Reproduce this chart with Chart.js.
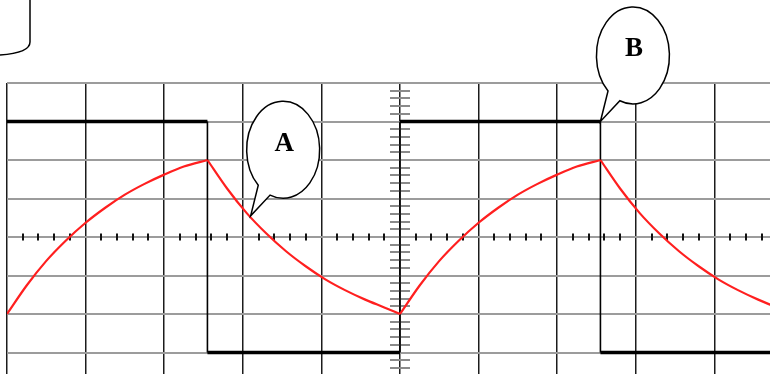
<!DOCTYPE html>
<html>
<head>
<meta charset="utf-8">
<script src="https://cdn.jsdelivr.net/npm/chart.js@4/dist/chart.umd.min.js"></script>
<style>
    html, body { margin: 0; padding: 0; background: #fff; overflow: hidden; width: 770px; height: 374px; }
    canvas { position: absolute; left: 0; top: 0; }
</style>
</head>
<body>
<canvas id="scope" width="800" height="400"></canvas>
<script>
// Oscilloscope trace: square wave input (black) and capacitor voltage (red)
// Units are screen divisions, centre of the screen = (0, 0)

// square wave corners
const squareTime = [-5, -2.45, -2.45, 0, 0, 2.55, 2.55, 5];
const squareVolt = [3, 3, -3, -3, 3, 3, -3, -3];

// capacitor voltage, one array per charge / discharge branch
const charge1Time = [-5, -4.75, -4.5, -4.25, -4, -3.75, -3.5, -3.25, -3, -2.75, -2.45];
const charge1Volt = [-2, -1.26, -0.62, -0.09, 0.37, 0.76, 1.10, 1.38, 1.62, 1.83, 2.0];

const discharge1Time = [-2.45, -2.2, -1.95, -1.7, -1.45, -1.2, -0.95, -0.7, -0.45, -0.2, 0];
const discharge1Volt = [2.0, 1.26, 0.62, 0.09, -0.37, -0.76, -1.10, -1.38, -1.62, -1.83, -2.0];

const charge2Time = [0, 0.25, 0.5, 0.75, 1, 1.25, 1.5, 1.75, 2, 2.25, 2.55];
const charge2Volt = [-2.0, -1.26, -0.62, -0.09, 0.37, 0.76, 1.10, 1.38, 1.62, 1.83, 2.0];

const discharge2Time = [2.55, 2.8, 3.05, 3.3, 3.55, 3.8, 4.05, 4.3, 4.55, 4.8, 5];
const discharge2Volt = [2.0, 1.26, 0.62, 0.09, -0.37, -0.76, -1.10, -1.38, -1.62, -1.83, -1.97];

// callout labels and where their tails point (in divisions)
const calloutLabels = ['A', 'B'];
const calloutTipTime = [-1.9, 2.55];
const calloutTipVolt = [0.55, 3];

const toPoints = (xs, ys) => xs.map((x, i) => ({ x, y: ys[i] }));

const RED = '#ff1f1f';

function redBranch(xs, ys) {
    return {
        data: toPoints(xs, ys),
        showLine: true,
        borderColor: RED,
        borderWidth: 2.2,
        pointRadius: 0,
        cubicInterpolationMode: 'monotone',
        order: 2
    };
}

// minor ticks along the two centre axes
const centreTicksPlugin = {
    id: 'centreTicks',
    beforeDatasetsDraw(chart) {
        const c = chart.ctx;
        const xs = chart.scales.x;
        const ys = chart.scales.y;
        const y0 = ys.getPixelForValue(0);
        const x0 = xs.getPixelForValue(0);
        c.save();
        // ticks on the horizontal centre line
        c.strokeStyle = '#111';
        c.lineWidth = 2;
        for (let k = -25; k <= 25; k++) {
            if (k % 5 === 0) continue;
            const px = Math.round(xs.getPixelForValue(k / 5));
            c.beginPath();
            c.moveTo(px, y0 - 3.5);
            c.lineTo(px, y0 + 3.5);
            c.stroke();
        }
        // ticks on the vertical centre line
        c.strokeStyle = '#8a8a8a';
        c.lineWidth = 2;
        for (let k = -20; k <= 20; k++) {
            if (k % 5 === 0) continue;
            const py = Math.round(ys.getPixelForValue(k / 5));
            c.beginPath();
            c.moveTo(x0 - 10, py);
            c.lineTo(x0 + 10, py);
            c.stroke();
        }
        c.restore();
    }
};

// speech bubbles + the rounded box cut off in the top-left corner
const calloutPlugin = {
    id: 'callouts',
    afterDatasetsDraw(chart) {
        const c = chart.ctx;
        const xs = chart.scales.x;
        const ys = chart.scales.y;
        c.save();
        c.lineWidth = 1.5;
        c.strokeStyle = '#000';
        c.fillStyle = '#fff';

        calloutLabels.forEach((label, i) => {
            const tx = xs.getPixelForValue(calloutTipTime[i]);
            const ty = ys.getPixelForValue(calloutTipVolt[i]);
            const cx = tx + 32.5;
            const cy = ty - 66;
            const rx = 36.5;
            const ry = 48.5;
            const a1 = 133 * Math.PI / 180;
            const a2 = 111 * Math.PI / 180;
            c.beginPath();
            c.ellipse(cx, cy, rx, ry, 0, a1, a2, false);
            c.lineTo(tx, ty);
            c.closePath();
            c.fill();
            c.stroke();

            c.fillStyle = '#000';
            c.font = 'bold 27px "Liberation Serif", "Times New Roman", serif';
            c.textAlign = 'center';
            c.textBaseline = 'middle';
            c.fillText(label, cx + 1, cy - 6);
            c.fillStyle = '#fff';
        });

        // partial rounded box
        c.beginPath();
        c.moveTo(30, -2);
        c.lineTo(30, 42);
        c.quadraticCurveTo(30, 53, 0, 55);
        c.stroke();
        c.restore();
    }
};

new Chart(document.getElementById('scope'), {
    type: 'scatter',
    data: {
        datasets: [
            redBranch(charge1Time, charge1Volt),
            redBranch(discharge1Time, discharge1Volt),
            redBranch(charge2Time, charge2Volt),
            redBranch(discharge2Time, discharge2Volt),
            {
                data: toPoints(squareTime, squareVolt),
                showLine: true,
                borderColor: '#000',
                borderWidth: 3.5,
                pointRadius: 0,
                tension: 0,
                order: 3,
                segment: {
                    // vertical edges of the square wave are thinner
                    borderWidth: (ctx) => ctx.p0.parsed.x === ctx.p1.parsed.x ? 1.6 : 3.5
                }
            }
        ]
    },
    plugins: [centreTicksPlugin, calloutPlugin],
    options: {
        responsive: false,
        animation: false,
        layout: {
            padding: { left: 7, top: 83, right: 7, bottom: 9 }
        },
        plugins: {
            legend: { display: false },
            tooltip: { enabled: false }
        },
        scales: {
            x: {
                type: 'linear',
                min: -5,
                max: 5,
                ticks: { display: false, stepSize: 1 },
                border: { display: false },
                grid: { color: '#1c1c1c', lineWidth: 1.5, drawTicks: false }
            },
            y: {
                min: -4,
                max: 4,
                ticks: { display: false, stepSize: 1 },
                border: { display: false },
                grid: { color: '#9c9c9c', lineWidth: 2, drawTicks: false }
            }
        }
    }
});
</script>
</body>
</html>
